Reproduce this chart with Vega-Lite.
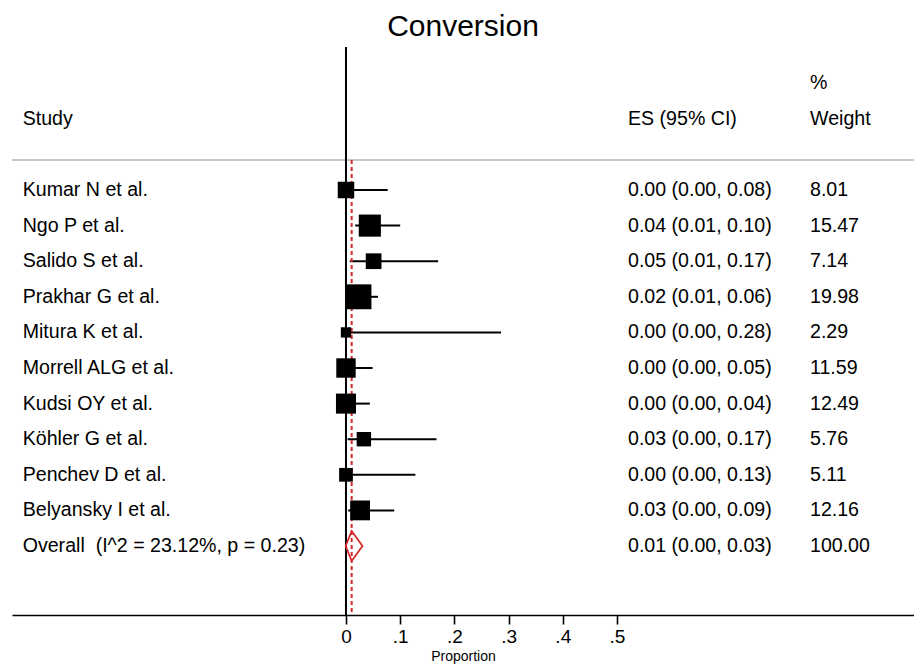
{
  "$schema": "https://vega.github.io/schema/vega-lite/v6.json",
  "autosize": "none",
  "width": 902,
  "height": 575,
  "padding": {"left": 12, "top": 40, "right": 0, "bottom": 51},
  "background": "white",
  "config": {
    "view": {"stroke": null},
    "font": "Liberation Sans",
    "text": {"font": "Liberation Sans"}
  },
  "title": {
    "text": "Conversion",
    "font": "Liberation Sans",
    "fontSize": 30,
    "fontWeight": "normal",
    "color": "black",
    "anchor": "middle",
    "offset": -2
  },
  "data": {
    "values": [
      {"study": "Kumar N et al.", "row": 1, "type": "study", "es": 0.0, "lo": 0.0, "hi": 0.077, "ci": "0.00 (0.00, 0.08)", "weight": 8.01},
      {"study": "Ngo P et al.", "row": 2, "type": "study", "es": 0.044, "lo": 0.017, "hi": 0.10, "ci": "0.04 (0.01, 0.10)", "weight": 15.47},
      {"study": "Salido S et al.", "row": 3, "type": "study", "es": 0.051, "lo": 0.007, "hi": 0.17, "ci": "0.05 (0.01, 0.17)", "weight": 7.14},
      {"study": "Prakhar G et al.", "row": 4, "type": "study", "es": 0.024, "lo": 0.01, "hi": 0.059, "ci": "0.02 (0.01, 0.06)", "weight": 19.98},
      {"study": "Mitura K et al.", "row": 5, "type": "study", "es": 0.0, "lo": 0.0, "hi": 0.286, "ci": "0.00 (0.00, 0.28)", "weight": 2.29},
      {"study": "Morrell ALG et al.", "row": 6, "type": "study", "es": 0.0, "lo": 0.0, "hi": 0.049, "ci": "0.00 (0.00, 0.05)", "weight": 11.59},
      {"study": "Kudsi OY et al.", "row": 7, "type": "study", "es": 0.0, "lo": 0.0, "hi": 0.044, "ci": "0.00 (0.00, 0.04)", "weight": 12.49},
      {"study": "Köhler G et al.", "row": 8, "type": "study", "es": 0.033, "lo": 0.003, "hi": 0.167, "ci": "0.03 (0.00, 0.17)", "weight": 5.76},
      {"study": "Penchev D et al.", "row": 9, "type": "study", "es": 0.0, "lo": 0.0, "hi": 0.128, "ci": "0.00 (0.00, 0.13)", "weight": 5.11},
      {"study": "Belyansky I et al.", "row": 10, "type": "study", "es": 0.026, "lo": 0.004, "hi": 0.089, "ci": "0.03 (0.00, 0.09)", "weight": 12.16},
      {"study": "Overall\u00a0 (I^2 = 23.12%, p = 0.23)", "row": 11, "type": "overall", "es": 0.0105, "lo": 0.001, "hi": 0.027, "ci": "0.01 (0.00, 0.03)", "weight": 100.0}
    ]
  },
  "layer": [
    {
      "transform": [{"filter": "datum.type == 'study'"}],
      "mark": {"type": "rule", "color": "black", "strokeWidth": 2},
      "encoding": {
        "x": {
          "field": "lo", "type": "quantitative",
          "scale": {"domain": [-0.6162, 1.048], "nice": false, "zero": false},
          "axis": {
            "title": "Proportion",
            "values": [0, 0.1, 0.2, 0.3, 0.4, 0.5],
            "labelExpr": "datum.value == 0 ? '0' : replace(format(datum.value, '.1f'), '0.', '.')",
            "grid": false,
            "domainColor": "black",
            "domainWidth": 1.6,
            "tickColor": "black",
            "tickWidth": 1.6,
            "tickSize": 9,
            "labelFont": "Liberation Sans",
            "labelFontSize": 19,
            "labelColor": "black",
            "labelPadding": 3,
            "titleFont": "Liberation Sans",
            "titleFontSize": 14,
            "titleFontWeight": "normal",
            "titleColor": "black",
            "titlePadding": 3
          }
        },
        "x2": {"field": "hi"},
        "y": {
          "field": "row", "type": "quantitative",
          "scale": {"domain": [-3.2135, 12.938], "reverse": true, "nice": false, "zero": false},
          "axis": null
        }
      }
    },
    {
      "data": {"values": [{"line": "null"}]},
      "mark": {"type": "rule", "color": "#c8c8c8", "strokeWidth": 2},
      "encoding": {"y": {"datum": 0.157}}
    },
    {
      "data": {"values": [{"line": "null"}]},
      "mark": {"type": "rule", "color": "black", "strokeWidth": 2},
      "encoding": {"x": {"datum": 0}, "y": {"datum": -3.017}, "y2": {"datum": 12.938}}
    },
    {
      "transform": [{"filter": "datum.type == 'overall'"}],
      "mark": {"type": "rule", "color": "#d42a2a", "strokeWidth": 2, "strokeDash": [4, 3]},
      "encoding": {"x": {"field": "es", "type": "quantitative"}, "y": {"datum": 0.157}, "y2": {"datum": 12.938}}
    },
    {
      "transform": [{"filter": "datum.type == 'study'"}],
      "mark": {"type": "point", "shape": "square", "filled": true, "color": "black", "opacity": 1},
      "encoding": {
        "x": {"field": "es", "type": "quantitative"},
        "y": {"field": "row", "type": "quantitative"},
        "size": {"field": "weight", "type": "quantitative", "scale": {"domain": [0, 20], "range": [40, 620]}, "legend": null}
      }
    },
    {
      "transform": [{"filter": "datum.type == 'overall'"}],
      "mark": {"type": "point", "shape": "M-0.4,0L0,-1L0.72,0L0,1Z", "filled": false, "color": "#d42a2a", "strokeWidth": 1.8, "size": 900, "opacity": 1},
      "encoding": {
        "x": {"field": "es", "type": "quantitative"},
        "y": {"field": "row", "type": "quantitative"}
      }
    },
    {
      "mark": {"type": "text", "align": "left", "baseline": "middle", "fontSize": 19.6, "color": "black"},
      "encoding": {
        "x": {"datum": -0.5965},
        "y": {"field": "row", "type": "quantitative"},
        "text": {"field": "study"}
      }
    },
    {
      "mark": {"type": "text", "align": "left", "baseline": "middle", "fontSize": 19.6, "color": "black"},
      "encoding": {
        "x": {"datum": 0.5203},
        "y": {"field": "row", "type": "quantitative"},
        "text": {"field": "ci"}
      }
    },
    {
      "mark": {"type": "text", "align": "left", "baseline": "middle", "fontSize": 19.6, "color": "black"},
      "encoding": {
        "x": {"datum": 0.8561},
        "y": {"field": "row", "type": "quantitative"},
        "text": {"field": "weight", "type": "quantitative", "format": ".2f"}
      }
    },
    {
      "data": {"values": [{"label": "Study"}]},
      "mark": {"type": "text", "align": "left", "baseline": "middle", "fontSize": 19.6, "color": "black"},
      "encoding": {"x": {"datum": -0.5965}, "y": {"datum": -1}, "text": {"field": "label"}}
    },
    {
      "data": {"values": [{"label": "ES (95% CI)"}]},
      "mark": {"type": "text", "align": "left", "baseline": "middle", "fontSize": 19.6, "color": "black"},
      "encoding": {"x": {"datum": 0.5203}, "y": {"datum": -1}, "text": {"field": "label"}}
    },
    {
      "data": {"values": [{"label": "Weight"}]},
      "mark": {"type": "text", "align": "left", "baseline": "middle", "fontSize": 19.6, "color": "black"},
      "encoding": {"x": {"datum": 0.8561}, "y": {"datum": -1}, "text": {"field": "label"}}
    },
    {
      "data": {"values": [{"label": "%"}]},
      "mark": {"type": "text", "align": "left", "baseline": "middle", "fontSize": 19.6, "color": "black"},
      "encoding": {"x": {"datum": 0.8561}, "y": {"datum": -2}, "text": {"field": "label"}}
    }
  ]
}
